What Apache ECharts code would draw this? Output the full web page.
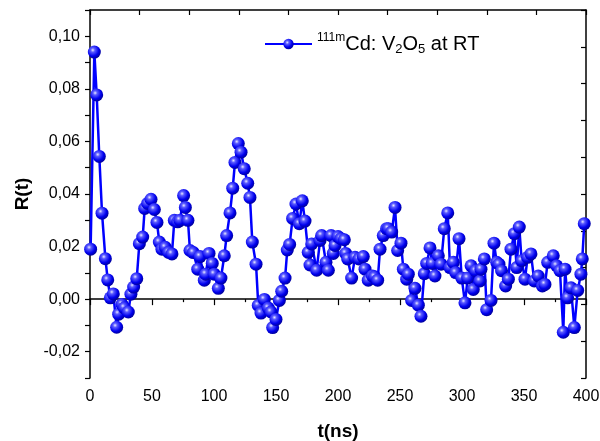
<!DOCTYPE html>
<html>
<head>
<meta charset="utf-8">
<script src="https://cdn.jsdelivr.net/npm/echarts@6/dist/echarts.min.js"></script>
<style>html,body{margin:0;padding:0;background:#fff;}#c{width:600px;height:441px;}</style>
</head>
<body>
<div id="c"></div>
<script>
// time values (ns)
const tValues = [0.5,3.5,5.4,7.5,9.7,12.4,14.3,16.4,18.8,21.5,23.1,25.8,27.7,30.9,33.0,35.2,37.7,39.8,42.5,44.1,46.5,49.2,51.9,54.0,55.9,58.0,60.7,63.4,66.1,68.0,70.7,72.6,75.5,76.9,79.0,
80.6,83.3,86.9,88.7,92.2,93.3,96.0,98.6,100.2,103.5,105.6,108.3,110.2,112.9,115.1,116.9,119.6,121.8,124.4,127.2,129.0,130.9,133.9,135.7,137.9,140.6,143.8,146.0,147.3,150.0,152.7,154.6,157.3,159.1,161.0,163.4,
166.1,168.8,171.2,173.4,176.0,177.4,178.8,182.8,185.5,186.8,190.3,192.2,194.4,196.2,197.6,200.0,202.4,205.1,206.2,207.8,211.0,213.7,216.9,220.4,221.8,224.4,227.7,229.5,232.0,233.9,236.5,239.2,
240.6,243.3,246.0,248.1,250.8,252.7,255.4,256.7,259.4,262.1,264.8,266.9,269.6,271.5,274.2,276.0,278.2,280.9,283.1,285.7,288.5,290.3,293.0,294.9,297.6,299.8,302.4,304.6,307.3,309.1,311.0,314.5,315.3,318.0,319.9,
323.4,325.8,328.0,329.8,331.9,335.2,337.4,339.5,342.2,344.1,346.2,348.1,350.8,352.9,355.6,358.3,361.5,364.8,366.9,369.1,373.6,376.3,379.0,381.7,383.1,385.2,387.9,390.6,393.3,395.9,397.0,398.6];
// R(t) values
const rValues = [0.019,0.094,0.0777,0.0543,0.0327,0.0154,0.0073,0.0005,0.002,-0.0107,-0.0057,-0.002,-0.0033,-0.0049,0.0019,0.0046,0.0078,0.0211,0.0236,0.0345,0.0364,0.038,0.0341,0.0292,0.0217,0.019,0.0197,0.0178,0.0172,0.030,0.0294,0.030,0.0394,0.0349,0.030,
0.0185,0.0177,0.0114,0.0162,0.0072,0.0095,0.0174,0.0136,0.0095,0.0041,0.008,0.0165,0.0242,0.0328,0.0422,0.052,0.0592,0.0559,0.0496,0.0441,0.0387,0.0217,0.0133,-0.0024,-0.0053,-0.0001,-0.0034,-0.0049,-0.0108,-0.0077,-0.0005,0.003,0.008,0.0187,0.0208,0.0307,
0.0362,0.0287,0.0374,0.0297,0.0178,0.013,0.021,0.011,0.0223,0.0242,0.014,0.011,0.0242,0.0174,0.0204,0.0238,0.023,0.0226,0.0174,0.0153,0.008,0.0159,0.0153,0.0162,0.0114,0.0072,0.0088,0.0085,0.0072,0.019,0.0242,0.0268,
0.0268,0.0255,0.0349,0.0185,0.0213,0.0114,0.0076,0.0095,-0.0005,0.0041,-0.0023,-0.0065,0.0097,0.0136,0.0195,0.0136,0.0088,0.0165,0.0133,0.0268,0.0328,0.012,0.014,0.0101,0.023,0.008,-0.0014,0.008,0.0127,0.0037,0.0108,0.0069,0.0114,0.0153,-0.004,
-0.0005,0.0213,0.014,0.0133,0.0108,0.005,0.0076,0.019,0.0249,0.012,0.0274,0.0146,0.0076,0.0159,0.0172,0.0069,0.0088,0.005,0.0056,0.014,0.0165,0.0127,0.0108,-0.0126,0.0114,0.0005,0.0043,-0.0108,0.0033,0.0095,0.0153,0.0287];
const xTicks = [0,50,100,150,200,250,300,350,400];
const yTickLabels = ['-0,02','0,00','0,02','0,04','0,06','0,08','0,10'];

const FONT = 'Liberation Sans, Arial, sans-serif';
const chart = echarts.init(document.getElementById('c'), null, {renderer: 'canvas'});
const seriesData = tValues.map((t, i) => [t, rValues[i]]);
const ball = new echarts.graphic.RadialGradient(0.38, 0.35, 0.65, [
  {offset: 0, color: '#e8e8ff'},
  {offset: 0.25, color: '#5a5aff'},
  {offset: 0.7, color: '#0000ee'},
  {offset: 1, color: '#0000a0'}
]);
chart.setOption({
  animation: false,
  backgroundColor: '#fff',
  grid: {left: 90, right: 14, top: 10, bottom: 63, containLabel: false, outerBoundsMode: 'none'},
  legend: {
    left: 259, top: 27,
    itemWidth: 47, itemHeight: 13,
    data: ['s'],
    formatter: () => '{sup|111m}{n|Cd: V}{sub|2}{n|O}{sub|5}{n| at RT}',
    textStyle: {
      fontFamily: FONT, color: '#000',
      rich: {
        n: {fontSize: 20, fontFamily: FONT, color: '#000', lineHeight: 24},
        sup: {fontSize: 12, fontFamily: FONT, color: '#000', lineHeight: 12, verticalAlign: 'top'},
        sub: {fontSize: 13, fontFamily: FONT, color: '#000', lineHeight: 13, verticalAlign: 'bottom'}
      }
    }
  },
  xAxis: [{
    type: 'value', min: 0, max: 400, interval: 50, position: 'bottom',
    name: 't(ns)', nameLocation: 'middle', nameGap: 44,
    nameTextStyle: {fontFamily: FONT, fontSize: 19, fontWeight: 'bold', color: '#000'},
    axisLine: {show: true, lineStyle: {color: '#000', width: 1.5}},
    axisTick: {show: true, inside: false, length: 6, lineStyle: {color: '#000', width: 1.2}},
    minorTick: {show: true, splitNumber: 2, length: 3, lineStyle: {color: '#000', width: 1.2}},
    axisLabel: {fontFamily: FONT, fontSize: 16, color: '#000', margin: 11,
      formatter: v => xTicks.includes(v) ? String(v) : ''},
    splitLine: {show: false}
  }, {
    type: 'value', min: 0, max: 10, interval: 1, position: 'top',
    axisLine: {show: true, onZero: false, lineStyle: {color: '#000', width: 1.5}},
    axisTick: {show: true, inside: true, length: 5, lineStyle: {color: '#000', width: 1.2}},
    axisLabel: {show: false}, splitLine: {show: false}
  }],
  yAxis: [{
    type: 'value', min: -0.03, max: 0.11, interval: 0.01, position: 'left',
    name: 'R(t)', nameLocation: 'middle', nameGap: 50,
    nameTextStyle: {fontFamily: FONT, fontSize: 19, fontWeight: 'bold', color: '#000'},
    axisLine: {show: true, onZero: false, lineStyle: {color: '#000', width: 1.5}},
    axisTick: {show: true, inside: false, length: 5, lineStyle: {color: '#000', width: 1.2}},
    axisLabel: {fontFamily: FONT, fontSize: 16, color: '#000', margin: 10,
      formatter: v => {
        const k = Math.round(v * 100);
        if (k % 2 !== 0) return '';
        const idx = (k + 2) / 2;
        return yTickLabels[idx] !== undefined ? yTickLabels[idx] : '';
      }},
    splitLine: {show: false}
  }, {
    type: 'value', min: 0, max: 10, interval: 1, position: 'right',
    axisLine: {show: true, onZero: false, lineStyle: {color: '#000', width: 1.5}},
    axisTick: {show: true, inside: true, length: 5, lineStyle: {color: '#000', width: 1.2}},
    axisLabel: {show: false}, splitLine: {show: false}
  }],
  series: [{
    name: 's', type: 'line', xAxisIndex: 0, yAxisIndex: 0,
    data: seriesData,
    symbol: 'circle', symbolSize: 13, showSymbol: true,
    lineStyle: {color: '#0000ff', width: 2.5},
    itemStyle: {color: ball, borderWidth: 0},
    clip: false
  }, {
    name: 'frame', type: 'line', xAxisIndex: 1, yAxisIndex: 1,
    data: [], silent: true, showSymbol: false
  }]
});
</script>
</body>
</html>
